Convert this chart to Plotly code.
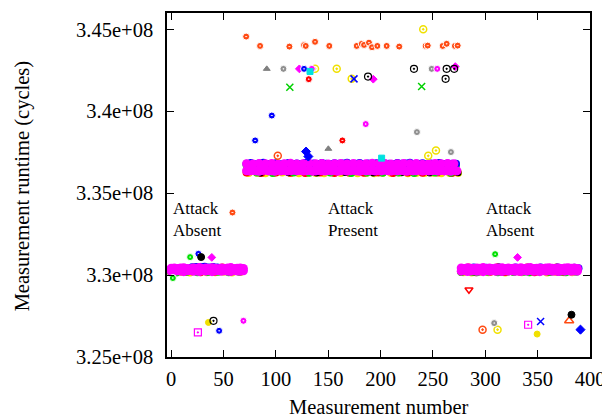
import plotly.graph_objects as go

# ---------------- data (runtime values in units of 1e8 cycles) ----------------
X_TICKS = [0, 50, 100, 150, 200, 250, 300, 350, 400]
Y_TICKS = [3.25, 3.30, 3.35, 3.40, 3.45]
Y_TICK_LABELS = ["3.25e+08", "3.3e+08", "3.35e+08", "3.4e+08", "3.45e+08"]

# phase start measurement numbers
A1_START, P_START, A2_START = 0, 72, 277

# dense band: magenta (lower row, every 3rd measurement)
MAG_LO_A1 = [3.3025, 3.3022, 3.3027, 3.3024, 3.3021, 3.3026, 3.3028, 3.3023, 3.3025, 3.3022, 3.3027, 3.3024,
             3.3026, 3.3021, 3.3025, 3.3028, 3.3023, 3.3026, 3.3024, 3.3022, 3.3027, 3.3025, 3.3023, 3.3026]
MAG_LO_P = [3.3637, 3.3635, 3.3639, 3.3636, 3.3634, 3.3638, 3.3640, 3.3636, 3.3637, 3.3634, 3.3639, 3.3636,
            3.3638, 3.3635, 3.3637, 3.3640, 3.3636, 3.3638, 3.3635, 3.3637, 3.3639, 3.3634, 3.3636, 3.3638,
            3.3637, 3.3635, 3.3639, 3.3636, 3.3638, 3.3634, 3.3637, 3.3640, 3.3635, 3.3637, 3.3639, 3.3636,
            3.3634, 3.3638, 3.3636, 3.3637, 3.3639, 3.3635, 3.3638, 3.3636, 3.3640, 3.3637, 3.3635, 3.3638,
            3.3636, 3.3639, 3.3637, 3.3634, 3.3638, 3.3636, 3.3637, 3.3640, 3.3635, 3.3638, 3.3636, 3.3637,
            3.3639, 3.3635, 3.3638, 3.3636, 3.3637, 3.3634, 3.3638, 3.3636]
MAG_LO_A2 = [3.3024, 3.3026, 3.3022, 3.3025, 3.3027, 3.3023, 3.3025, 3.3021, 3.3026, 3.3024, 3.3028, 3.3023,
             3.3025, 3.3022, 3.3026, 3.3024, 3.3027, 3.3023, 3.3025, 3.3022, 3.3026, 3.3024, 3.3028, 3.3023,
             3.3025, 3.3021, 3.3026, 3.3024, 3.3027, 3.3023, 3.3025, 3.3022, 3.3026, 3.3024, 3.3027, 3.3023,
             3.3025, 3.3024]
# magenta upper row (every 3rd in absent phases, every 6th in present phase)
MAG_HI_A1 = [3.3042, 3.3044, 3.3040, 3.3043, 3.3045, 3.3041, 3.3039, 3.3044, 3.3042, 3.3046, 3.3040, 3.3043,
             3.3041, 3.3045, 3.3042, 3.3039, 3.3044, 3.3041, 3.3043, 3.3046, 3.3040, 3.3042, 3.3044, 3.3041]
MAG_HI_P = [3.3680, 3.3678, 3.3682, 3.3679, 3.3681, 3.3677, 3.3680, 3.3683, 3.3678, 3.3680, 3.3682, 3.3679,
            3.3681, 3.3678, 3.3680, 3.3682, 3.3679, 3.3681, 3.3678, 3.3680, 3.3683, 3.3679, 3.3681, 3.3678,
            3.3680, 3.3682, 3.3679, 3.3681, 3.3677, 3.3680, 3.3682, 3.3679, 3.3681, 3.3680]
MAG_HI_A2 = [3.3043, 3.3041, 3.3045, 3.3042, 3.3040, 3.3044, 3.3042, 3.3046, 3.3041, 3.3043, 3.3039, 3.3044,
             3.3042, 3.3045, 3.3041, 3.3043, 3.3040, 3.3044, 3.3042, 3.3045, 3.3041, 3.3043, 3.3046, 3.3040,
             3.3042, 3.3044, 3.3041, 3.3043, 3.3045, 3.3042, 3.3040, 3.3044, 3.3041, 3.3043, 3.3045, 3.3042,
             3.3044, 3.3041]

# band: blue (every 4th)
BLUE_A1 = [3.3040, 3.3038, 3.3042, 3.3039, 3.3041, 3.3048, 3.3050, 3.3049, 3.3051, 3.3047, 3.3049, 3.3046,
           3.3040, 3.3039, 3.3042, 3.3038, 3.3041, 3.3040]
BLUE_P = [3.3679, 3.3684, 3.3677, 3.3681, 3.3686, 3.3678, 3.3680, 3.3683, 3.3676, 3.3679, 3.3685, 3.3678,
          3.3681, 3.3677, 3.3684, 3.3679, 3.3682, 3.3678, 3.3685, 3.3680, 3.3677, 3.3683, 3.3679, 3.3681,
          3.3686, 3.3678, 3.3680, 3.3684, 3.3677, 3.3681, 3.3679, 3.3683, 3.3678, 3.3682, 3.3680, 3.3677,
          3.3684, 3.3679, 3.3681, 3.3686, 3.3678, 3.3680, 3.3683, 3.3677, 3.3681, 3.3679, 3.3685, 3.3678,
          3.3682, 3.3680, 3.3679]
BLUE_A2 = [3.3041, 3.3044, 3.3039, 3.3046, 3.3042, 3.3040, 3.3045, 3.3043, 3.3039, 3.3047, 3.3041, 3.3044,
           3.3040, 3.3046, 3.3042, 3.3039, 3.3045, 3.3041, 3.3043, 3.3047, 3.3040, 3.3044, 3.3042, 3.3046,
           3.3039, 3.3043, 3.3041, 3.3045, 3.3042]

# band: green (every 5th)
GREEN_A1 = [3.3018, 3.3016, 3.3030, 3.3020, 3.3035, 3.3017, 3.3028, 3.3019, 3.3033, 3.3021, 3.3030, 3.3018,
            3.3026, 3.3020]
GREEN_P = [3.3672, 3.3668, 3.3626, 3.3674, 3.3670, 3.3624, 3.3671, 3.3667, 3.3673, 3.3627, 3.3669, 3.3672,
           3.3625, 3.3670, 3.3668, 3.3674, 3.3626, 3.3671, 3.3669, 3.3673, 3.3624, 3.3670, 3.3672, 3.3627,
           3.3668, 3.3671, 3.3625, 3.3673, 3.3669, 3.3626, 3.3672, 3.3670, 3.3624, 3.3671, 3.3668, 3.3673,
           3.3627, 3.3670, 3.3672, 3.3625, 3.3669]
GREEN_A2 = [3.3019, 3.3032, 3.3021, 3.3017, 3.3034, 3.3020, 3.3029, 3.3018, 3.3035, 3.3022, 3.3019, 3.3031,
            3.3020, 3.3017, 3.3033, 3.3021, 3.3028, 3.3019, 3.3034, 3.3020, 3.3018, 3.3030, 3.3021]

# band: red (every 7th)
RED_A1 = [3.3018, 3.3030, 3.3020, 3.3045, 3.3017, 3.3028, 3.3021, 3.3046, 3.3019, 3.3025]
RED_P = [3.3626, 3.3665, 3.3624, 3.3670, 3.3627, 3.3662, 3.3625, 3.3668, 3.3623, 3.3666, 3.3626, 3.3671,
         3.3624, 3.3664, 3.3627, 3.3669, 3.3625, 3.3663, 3.3626, 3.3670, 3.3624, 3.3667, 3.3627, 3.3665,
         3.3625, 3.3672, 3.3626, 3.3664, 3.3624]
RED_A2 = [3.3020, 3.3047, 3.3018, 3.3029, 3.3021, 3.3048, 3.3019, 3.3027, 3.3020, 3.3046, 3.3018, 3.3030,
          3.3021, 3.3047, 3.3019, 3.3026]

# band: yellow (every 8th)
YEL_A1 = [3.3017, 3.3019, 3.3016, 3.3020, 3.3018, 3.3017, 3.3021, 3.3016, 3.3019]
YEL_P = [3.3623, 3.3625, 3.3622, 3.3624, 3.3626, 3.3623, 3.3621, 3.3625, 3.3624, 3.3622, 3.3626, 3.3623,
         3.3625, 3.3622, 3.3624, 3.3621, 3.3625, 3.3623, 3.3626, 3.3622, 3.3624, 3.3623, 3.3625, 3.3621,
         3.3624, 3.3623]
YEL_A2 = [3.3018, 3.3016, 3.3020, 3.3017, 3.3019, 3.3016, 3.3021, 3.3018, 3.3017, 3.3020, 3.3016, 3.3019,
          3.3018, 3.3017]

# band: black (every 9th)
BLK_A1 = [3.3040, 3.3046, 3.3048, 3.3041, 3.3039, 3.3043, 3.3040, 3.3042]
BLK_P = [3.3668, 3.3624, 3.3671, 3.3666, 3.3625, 3.3670, 3.3667, 3.3623, 3.3672, 3.3669, 3.3626, 3.3668,
         3.3671, 3.3624, 3.3667, 3.3670, 3.3625, 3.3669, 3.3666, 3.3623, 3.3671, 3.3668, 3.3625]
BLK_A2 = [3.3041, 3.3019, 3.3044, 3.3040, 3.3018, 3.3043, 3.3046, 3.3020, 3.3042, 3.3039, 3.3017, 3.3044,
          3.3041]

# outliers: measurement number and runtime (1e8 cycles)
ORANGE_X = [71.6, 84.9, 112.9, 126.9, 128.5, 137.4, 151, 177.2, 182, 184.2, 188.9, 191.8, 196.9, 205.8,
            217.8, 243, 245, 259.3, 263.1, 271, 273.6, 58.5]
ORANGE_Y = [3.4456, 3.4399, 3.4395, 3.4404, 3.4399, 3.4424, 3.4399, 3.4399, 3.4412, 3.4405, 3.4419, 3.4391,
            3.4399, 3.4399, 3.4395, 3.4399, 3.4401, 3.4399, 3.4412, 3.4399, 3.4401, 3.3382]
ORANGE_OPEN_X = [101.8, 297.4]
ORANGE_OPEN_Y = [3.3728, 3.2667]
ORANGE_TRI_X = [380.1]
ORANGE_TRI_Y = [3.2721]
YEL_OPEN_X = [240.7, 137.4, 158.1, 172.4, 245.5, 252.9, 311.7]
YEL_OPEN_Y = [3.4501, 3.4259, 3.4259, 3.4198, 3.3728, 3.3761, 3.2667]
YEL_FILL_X = [35.6, 349.5]
YEL_FILL_Y = [3.2711, 3.2640]
GRAY_X = [107.2, 248.8, 234.7, 267.2, 308.5]
GRAY_Y = [3.4259, 3.4259, 3.3873, 3.3751, 3.2707]
GRAY_TRI_X = [91.3, 150.1]
GRAY_TRI_Y = [3.4259, 3.3771]
MAG_DIA_X = [122.4, 193, 38.8, 330.8, 271.3]
MAG_DIA_Y = [3.4259, 3.4196, 3.3108, 3.3108, 3.4273]
MAG_CIR_X = [134.3, 185.8, 254.1, 69]
MAG_CIR_Y = [3.4259, 3.3922, 3.4259, 3.2721]
MAG_SQ_X = [25.5, 340.9]
MAG_SQ_Y = [3.2650, 3.2697]
BLUE_CIR_X = [126.9, 96.1, 80.2, 45.8, 26]
BLUE_CIR_Y = [3.4259, 3.3974, 3.3822, 3.2660, 3.3130]
BLUE_DIA_X = [128.8, 131, 390.9]
BLUE_DIA_Y = [3.3754, 3.3724, 3.2667]
BLUE_X_X = [174.6, 352.8]
BLUE_X_Y = [3.4198, 3.2717]
CYAN_SQ_X = [132.6, 201]
CYAN_SQ_Y = [3.4243, 3.3714]
BLK_OPEN_X = [231.9, 263.1, 270.3, 262.1, 40.4, 188]
BLK_OPEN_Y = [3.4259, 3.4259, 3.4259, 3.4198, 3.2721, 3.4212]
BLK_FILL_X = [382.3, 28.6]
BLK_FILL_Y = [3.2758, 3.3110]
RED_CIR_X = [131.4, 163.5]
RED_CIR_Y = [3.4196, 3.3822]
RED_TRI_X = [284.4]
RED_TRI_Y = [3.2911]
GREEN_X_X = [113.3, 239.2]
GREEN_X_Y = [3.4147, 3.4151]
GREEN_CIR_X = [18.1, 309.4, 1.6]
GREEN_CIR_Y = [3.3110, 3.3128, 3.2982]

SCALE = 1e8

# ---------------- figure ----------------
fig = go.Figure()


def band(segments, color, size, step_list):
    xs, ys = [], []
    for (start, vals), step in zip(segments, step_list):
        xs += [start + step * i for i in range(len(vals))]
        ys += [v * SCALE for v in vals]
    fig.add_trace(go.Scatter(x=xs, y=ys, mode="markers", showlegend=False, hoverinfo="skip",
                             marker=dict(symbol="circle", size=size, color=color,
                                         line=dict(width=0))))


def pts(xv, yv, symbol, color, size=7, lw=1.0, lcolor=None):
    fig.add_trace(go.Scatter(x=xv, y=[v * SCALE for v in yv], mode="markers", showlegend=False,
                             marker=dict(symbol=symbol, size=size, color=color,
                                         line=dict(width=lw, color=lcolor or color))))


band([(A1_START + 2, YEL_A1), (P_START + 2, YEL_P), (A2_START + 2, YEL_A2)], "#f2e600", 8, [8, 8, 8])
band([(A1_START, RED_A1), (P_START, RED_P), (A2_START, RED_A2)], "#ff0000", 8, [7, 7, 7])
band([(A1_START + 4, BLK_A1), (P_START + 4, BLK_P), (A2_START + 3, BLK_A2)], "#000000", 7, [9, 9, 9])
band([(A1_START, GREEN_A1), (P_START, GREEN_P), (A2_START, GREEN_A2)], "#00e000", 8, [5, 5, 5])
band([(A1_START, BLUE_A1), (P_START, BLUE_P), (A2_START, BLUE_A2)], "#0000ff", 8, [4, 4, 4])
band([(A1_START, MAG_LO_A1), (P_START, MAG_LO_P), (A2_START, MAG_LO_A2)], "#ff00ff", 9, [3, 3, 3])
band([(A1_START, MAG_HI_A1), (P_START, MAG_HI_P), (A2_START, MAG_HI_A2)], "#ff00ff", 9, [3, 6, 3])

ORANGE = "#ff4a12"
pts(ORANGE_X, ORANGE_Y, "circle-dot", ORANGE, 7, 1, "white")
pts(ORANGE_OPEN_X, ORANGE_OPEN_Y, "circle-open-dot", ORANGE, 7, 1.5)
pts(ORANGE_TRI_X, ORANGE_TRI_Y, "triangle-up-open", ORANGE, 8, 1.5)
pts(YEL_OPEN_X, YEL_OPEN_Y, "circle-open-dot", "#f0e000", 7, 1.5)
pts(YEL_FILL_X, YEL_FILL_Y, "circle", "#f0e000", 6)
pts(GRAY_X, GRAY_Y, "circle-dot", "#909090", 7, 1, "white")
pts(GRAY_TRI_X, GRAY_TRI_Y, "triangle-up", "#808080", 6)
pts(MAG_DIA_X, MAG_DIA_Y, "diamond", "#ff00ff", 6)
pts(MAG_CIR_X, MAG_CIR_Y, "circle-dot", "#ff00ff", 7, 1, "white")
pts(MAG_SQ_X, MAG_SQ_Y, "square-open-dot", "#ff00ff", 7, 1.2)
pts(BLUE_CIR_X, BLUE_CIR_Y, "circle-dot", "#0000ff", 7, 1, "white")
pts(BLUE_DIA_X, BLUE_DIA_Y, "diamond", "#0000ff", 7)
pts(BLUE_X_X, BLUE_X_Y, "x-thin-open", "#0000ff", 7, 1.5)
pts(CYAN_SQ_X, CYAN_SQ_Y, "square", "#00e0e0", 6)
pts(BLK_OPEN_X, BLK_OPEN_Y, "circle-open-dot", "#000000", 7, 1.2)
pts(BLK_FILL_X, BLK_FILL_Y, "circle", "#000000", 7)
pts(RED_CIR_X, RED_CIR_Y, "circle-dot", "#ff0000", 7, 1, "white")
pts(RED_TRI_X, RED_TRI_Y, "triangle-down-open", "#ff0000", 7, 1.5)
pts(GREEN_X_X, GREEN_X_Y, "x-thin-open", "#00d000", 7, 1.5)
pts(GREEN_CIR_X, GREEN_CIR_Y, "circle-dot", "#00e000", 7, 1, "white")

FONT = "Liberation Serif"
axis_common = dict(showgrid=False, zeroline=False, showline=True, linecolor="black", linewidth=1.5,
                   mirror="ticks", ticks="inside", ticklen=7, tickwidth=1, tickcolor="black",
                   automargin=False, tickfont=dict(family=FONT, size=20.5, color="black"))

# the page body adds an 8px offset, so the figure is 8px smaller and margins shifted
fig.update_layout(
    template="none",
    width=602, height=411,
    margin=dict(l=159, r=20, t=5, b=62, autoexpand=False),
    paper_bgcolor="white", plot_bgcolor="white",
    xaxis=dict(range=[-4, 400], tickvals=X_TICKS, ticktext=[str(v) for v in X_TICKS],
               ticklabelstandoff=3, **axis_common),
    yaxis=dict(range=[3.25 * SCALE, 3.46 * SCALE], tickvals=[v * SCALE for v in Y_TICKS],
               ticktext=Y_TICK_LABELS, ticklabelstandoff=8, **axis_common),
    showlegend=False,
)

ann_font = dict(family=FONT, size=17, color="black")
for xv, text in [(1, "Attack<br>Absent"), (148.5, "Attack<br>Present"), (299.5, "Attack<br>Absent")]:
    fig.add_annotation(x=xv, y=3.3342 * SCALE, xref="x", yref="y", text=text, showarrow=False,
                       xanchor="left", yanchor="middle", align="left", borderpad=0, font=ann_font)

fig.add_annotation(x=-0.3428, y=0.496, xref="paper", yref="paper", text="Measurement runtime (cycles)",
                   textangle=-90, showarrow=False, xanchor="center", yanchor="middle",
                   font=dict(family=FONT, size=20.5, color="black"))
fig.add_annotation(x=0.501, y=-0.144, xref="paper", yref="paper", text="Measurement number",
                   showarrow=False, xanchor="center", yanchor="middle",
                   font=dict(family=FONT, size=20.5, color="black"))

fig.write_html("out.html")
